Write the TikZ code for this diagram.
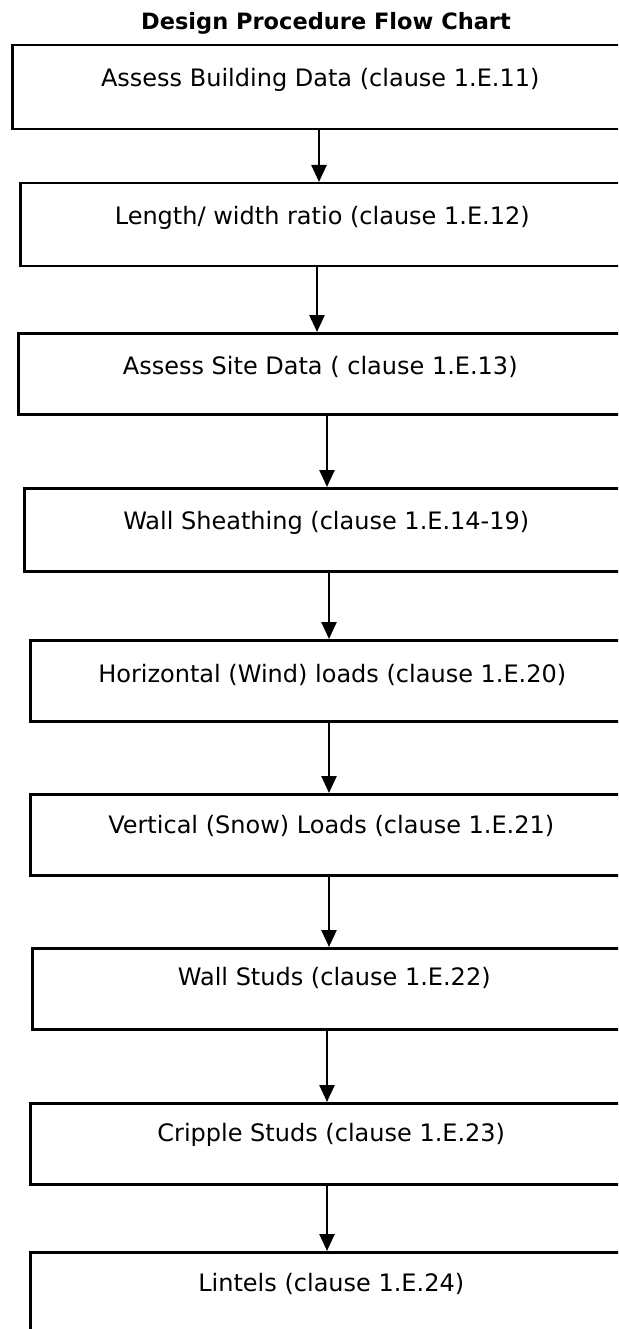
\documentclass[tikz,border=0pt]{standalone}
\usepackage{fontspec}
\setmainfont{DejaVu Sans}
\usetikzlibrary{arrows.meta}
\newfontfamily\boxfam{DejaVu Sans}
\tikzset{
  stepbox/.style={draw, line width=2.5pt, inner xsep=0pt, inner ysep=0pt,
    anchor=north west, minimum width=604pt, font=\boxfam\fontsize{24}{28}\selectfont},
  arr/.style={line width=2.5pt, -{Triangle[width=15pt,length=17pt]}},
}
\begin{document}
\begin{tikzpicture}[x=1pt,y=-1pt]
\useasboundingbox (0,0) rectangle (618,1329);
\clip (0,0) rectangle (618,1329);
\fill[white] (0,0) rectangle (618,1329);
\node[anchor=base, font=\bfseries\fontsize{22.5}{26}\selectfont] (title) at (326,30) {Design Procedure Flow Chart};
\node[stepbox, minimum width=616pt, text height=41.5pt, text depth=42.5pt] (b1) at (11,44) {Assess Building Data (clause 1.E.11)};
\node[stepbox, text height=41pt, text depth=42pt] (b2) at (19,182) {Length/ width ratio (clause 1.E.12)};
\node[stepbox, text height=41.5pt, text depth=39.5pt] (b3) at (17,332) {Assess Site Data ( clause 1.E.13)};
\node[stepbox, text height=41.5pt, text depth=41.5pt] (b4) at (23,487) {Wall Sheathing (clause 1.E.14-19)};
\node[stepbox, text height=42.5pt, text depth=38.5pt] (b5) at (29,639) {Horizontal (Wind) loads (clause 1.E.20)};
\node[stepbox, minimum width=602pt, text height=39.5pt, text depth=41.5pt] (b6) at (29,793) {Vertical (Snow) Loads (clause 1.E.21)};
\node[stepbox, text height=37.5pt, text depth=43.5pt] (b7) at (31,947) {Wall Studs (clause 1.E.22)};
\node[stepbox, minimum width=602pt, text height=38.5pt, text depth=42.5pt] (b8) at (29,1102) {Cripple Studs (clause 1.E.23)};
\node[stepbox, minimum width=602pt, text height=39.5pt, text depth=42.5pt] (b9) at (29,1251) {Lintels (clause 1.E.24)};
\coordinate (x1) at (319,0);
\coordinate (x2) at (317,0);
\coordinate (x3) at (327,0);
\coordinate (x4) at (329,0);
\coordinate (x5) at (329,0);
\coordinate (x6) at (329,0);
\coordinate (x7) at (327,0);
\coordinate (x8) at (327,0);
\draw[arr] (b1.south -| x1) -- (b2.north -| x1);
\draw[arr] (b2.south -| x2) -- (b3.north -| x2);
\draw[arr] (b3.south -| x3) -- (b4.north -| x3);
\draw[arr] (b4.south -| x4) -- (b5.north -| x4);
\draw[arr] (b5.south -| x5) -- (b6.north -| x5);
\draw[arr] (b6.south -| x6) -- (b7.north -| x6);
\draw[arr] (b7.south -| x7) -- (b8.north -| x7);
\draw[arr] (b8.south -| x8) -- (b9.north -| x8);
\end{tikzpicture}
\end{document}
